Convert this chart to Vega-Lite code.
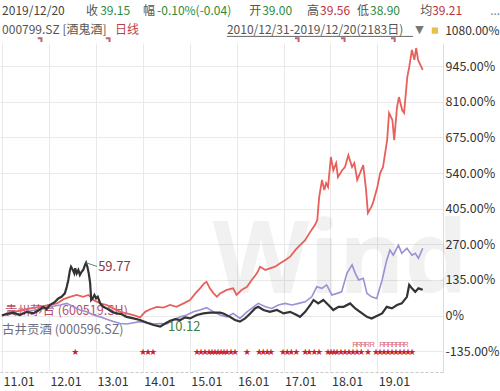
{
  "$schema": "https://vega.github.io/schema/vega-lite/v6.json",
  "width": 443,
  "height": 329,
  "autosize": "none",
  "padding": {"left": 0, "top": 43, "right": 57, "bottom": 19},
  "background": "white",
  "config": {
    "view": {"stroke": null},
    "font": "Noto Sans CJK SC",
    "text": {"font": "Noto Sans CJK SC", "fontSize": 12, "baseline": "middle", "align": "left"},
    "axis": {"labelFont": "Noto Sans CJK SC", "labelFontSize": 12.5, "labelColor": "#333", "title": null}
  },
  "datasets": {
    "one": [{}],
    "jgj": [
      {"date": "2010-12-31", "value": 0}, {"date": "2011-02-07", "value": 6}, {"date": "2011-03-29", "value": 11},
      {"date": "2011-05-20", "value": 2}, {"date": "2011-07-13", "value": 14}, {"date": "2011-09-02", "value": 8},
      {"date": "2011-10-08", "value": 18}, {"date": "2011-11-17", "value": 33}, {"date": "2011-12-13", "value": 24},
      {"date": "2012-01-08", "value": 40}, {"date": "2012-02-17", "value": 52}, {"date": "2012-03-14", "value": 65},
      {"date": "2012-04-08", "value": 71}, {"date": "2012-05-04", "value": 84}, {"date": "2012-05-19", "value": 109},
      {"date": "2012-05-31", "value": 135}, {"date": "2012-06-13", "value": 173}, {"date": "2012-06-21", "value": 185},
      {"date": "2012-07-05", "value": 173}, {"date": "2012-07-16", "value": 160}, {"date": "2012-07-24", "value": 179},
      {"date": "2012-08-04", "value": 160}, {"date": "2012-08-17", "value": 173}, {"date": "2012-08-29", "value": 154},
      {"date": "2012-09-12", "value": 166}, {"date": "2012-09-24", "value": 173}, {"date": "2012-10-08", "value": 192},
      {"date": "2012-10-16", "value": 200}, {"date": "2012-10-26", "value": 185}, {"date": "2012-11-06", "value": 160},
      {"date": "2012-11-17", "value": 122}, {"date": "2012-11-25", "value": 59}, {"date": "2012-12-06", "value": 65},
      {"date": "2012-12-20", "value": 78}, {"date": "2013-01-02", "value": 65}, {"date": "2013-01-15", "value": 71},
      {"date": "2013-02-03", "value": 46}, {"date": "2013-02-28", "value": 33}, {"date": "2013-03-26", "value": 27},
      {"date": "2013-05-04", "value": 14}, {"date": "2013-06-13", "value": 8}, {"date": "2013-07-21", "value": 5},
      {"date": "2013-08-29", "value": -5}, {"date": "2013-10-20", "value": -11}, {"date": "2013-12-11", "value": -17},
      {"date": "2014-02-02", "value": -27}, {"date": "2014-03-26", "value": -36}, {"date": "2014-05-16", "value": -42},
      {"date": "2014-06-24", "value": -30}, {"date": "2014-08-02", "value": -20}, {"date": "2014-09-10", "value": -14},
      {"date": "2014-10-19", "value": -17}, {"date": "2014-11-27", "value": -7}, {"date": "2015-01-04", "value": -11},
      {"date": "2015-02-25", "value": 2}, {"date": "2015-04-18", "value": 8}, {"date": "2015-06-08", "value": 11},
      {"date": "2015-08-25", "value": 11}, {"date": "2015-09-20", "value": 8}, {"date": "2015-11-10", "value": -5},
      {"date": "2015-12-20", "value": -17}, {"date": "2016-01-27", "value": -23}, {"date": "2016-03-07", "value": -11},
      {"date": "2016-04-16", "value": 8}, {"date": "2016-05-23", "value": 27}, {"date": "2016-06-18", "value": 33},
      {"date": "2016-07-28", "value": 21}, {"date": "2016-09-16", "value": 14}, {"date": "2016-11-10", "value": 21},
      {"date": "2017-01-01", "value": 8}, {"date": "2017-02-21", "value": 14}, {"date": "2017-04-13", "value": 2},
      {"date": "2017-05-09", "value": -5}, {"date": "2017-06-18", "value": 14}, {"date": "2017-07-28", "value": 40},
      {"date": "2017-08-22", "value": 59}, {"date": "2017-09-27", "value": 46}, {"date": "2017-11-06", "value": 59},
      {"date": "2017-12-16", "value": 40}, {"date": "2018-01-23", "value": 21}, {"date": "2018-03-04", "value": 33},
      {"date": "2018-04-13", "value": 33}, {"date": "2018-06-03", "value": 46}, {"date": "2018-07-13", "value": 27},
      {"date": "2018-08-19", "value": 14}, {"date": "2018-10-12", "value": -5}, {"date": "2018-11-17", "value": -11},
      {"date": "2018-12-27", "value": -2}, {"date": "2019-02-07", "value": 8}, {"date": "2019-03-15", "value": 33},
      {"date": "2019-04-24", "value": 27}, {"date": "2019-06-03", "value": 40}, {"date": "2019-07-10", "value": 46},
      {"date": "2019-08-19", "value": 71}, {"date": "2019-09-06", "value": 116}, {"date": "2019-09-27", "value": 103},
      {"date": "2019-10-23", "value": 90}, {"date": "2019-11-17", "value": 103}, {"date": "2019-12-20", "value": 98}
    ],
    "gzmt": [
      {"date": "2010-12-31", "value": 0}, {"date": "2011-03-04", "value": 14}, {"date": "2011-05-20", "value": 18},
      {"date": "2011-08-08", "value": 27}, {"date": "2011-10-23", "value": 33}, {"date": "2012-01-08", "value": 40},
      {"date": "2012-03-04", "value": 46}, {"date": "2012-04-24", "value": 62}, {"date": "2012-06-13", "value": 71},
      {"date": "2012-08-04", "value": 78}, {"date": "2012-09-24", "value": 71}, {"date": "2012-11-03", "value": 78},
      {"date": "2012-12-13", "value": 59}, {"date": "2013-02-03", "value": 46}, {"date": "2013-03-26", "value": 40},
      {"date": "2013-05-16", "value": 27}, {"date": "2013-07-10", "value": 14}, {"date": "2013-08-29", "value": 8},
      {"date": "2013-10-20", "value": 2}, {"date": "2013-12-11", "value": -7}, {"date": "2014-01-19", "value": 14},
      {"date": "2014-02-28", "value": 24}, {"date": "2014-04-20", "value": 33}, {"date": "2014-06-10", "value": 30},
      {"date": "2014-08-01", "value": 40}, {"date": "2014-09-20", "value": 33}, {"date": "2014-11-14", "value": 46},
      {"date": "2015-01-04", "value": 59}, {"date": "2015-02-14", "value": 84}, {"date": "2015-03-22", "value": 103},
      {"date": "2015-04-24", "value": 122}, {"date": "2015-05-12", "value": 128}, {"date": "2015-06-07", "value": 103},
      {"date": "2015-07-06", "value": 84}, {"date": "2015-08-01", "value": 71}, {"date": "2015-08-26", "value": 84},
      {"date": "2015-10-16", "value": 97}, {"date": "2015-12-05", "value": 103}, {"date": "2016-01-01", "value": 78},
      {"date": "2016-02-09", "value": 97}, {"date": "2016-03-22", "value": 109}, {"date": "2016-04-28", "value": 135},
      {"date": "2016-06-07", "value": 160}, {"date": "2016-07-02", "value": 185}, {"date": "2016-08-12", "value": 173},
      {"date": "2016-09-16", "value": 179}, {"date": "2016-10-27", "value": 185}, {"date": "2016-12-05", "value": 198},
      {"date": "2017-01-12", "value": 210}, {"date": "2017-02-21", "value": 223}, {"date": "2017-04-02", "value": 248},
      {"date": "2017-05-09", "value": 267}, {"date": "2017-06-18", "value": 286}, {"date": "2017-07-28", "value": 318},
      {"date": "2017-09-02", "value": 343}, {"date": "2017-09-20", "value": 362}, {"date": "2017-10-05", "value": 449},
      {"date": "2017-10-27", "value": 514}, {"date": "2017-11-14", "value": 476}, {"date": "2017-11-28", "value": 502},
      {"date": "2017-12-13", "value": 487}, {"date": "2018-01-04", "value": 601}, {"date": "2018-01-23", "value": 551},
      {"date": "2018-02-14", "value": 578}, {"date": "2018-02-28", "value": 525}, {"date": "2018-04-02", "value": 551},
      {"date": "2018-04-24", "value": 563}, {"date": "2018-05-20", "value": 608}, {"date": "2018-06-18", "value": 563},
      {"date": "2018-07-06", "value": 578}, {"date": "2018-07-28", "value": 514}, {"date": "2018-08-19", "value": 540},
      {"date": "2018-09-13", "value": 570}, {"date": "2018-10-05", "value": 476}, {"date": "2018-10-19", "value": 389},
      {"date": "2018-11-14", "value": 411}, {"date": "2018-11-28", "value": 427}, {"date": "2019-01-01", "value": 487},
      {"date": "2019-01-23", "value": 540}, {"date": "2019-02-14", "value": 563}, {"date": "2019-03-18", "value": 665},
      {"date": "2019-04-02", "value": 768}, {"date": "2019-04-28", "value": 741}, {"date": "2019-05-12", "value": 665},
      {"date": "2019-06-03", "value": 790}, {"date": "2019-06-18", "value": 828}, {"date": "2019-07-13", "value": 779},
      {"date": "2019-07-28", "value": 768}, {"date": "2019-08-22", "value": 904}, {"date": "2019-09-06", "value": 942},
      {"date": "2019-09-27", "value": 1007}, {"date": "2019-10-16", "value": 969}, {"date": "2019-10-30", "value": 1014},
      {"date": "2019-11-14", "value": 969}, {"date": "2019-12-20", "value": 931}
    ],
    "gjgj": [
      {"date": "2010-12-31", "value": 0}, {"date": "2011-03-04", "value": 11}, {"date": "2011-05-20", "value": 6},
      {"date": "2011-08-08", "value": 18}, {"date": "2011-10-23", "value": 21}, {"date": "2012-01-08", "value": 33},
      {"date": "2012-03-29", "value": 40}, {"date": "2012-05-19", "value": 46}, {"date": "2012-07-10", "value": 33},
      {"date": "2012-08-29", "value": 21}, {"date": "2012-10-23", "value": 14}, {"date": "2012-12-13", "value": 2},
      {"date": "2013-02-03", "value": -5}, {"date": "2013-03-26", "value": -14}, {"date": "2013-05-16", "value": -23},
      {"date": "2013-07-10", "value": -30}, {"date": "2013-08-29", "value": -32}, {"date": "2013-10-20", "value": -27},
      {"date": "2013-12-11", "value": -23}, {"date": "2014-02-02", "value": -27}, {"date": "2014-03-26", "value": -32},
      {"date": "2014-05-16", "value": -30}, {"date": "2014-07-06", "value": -32}, {"date": "2014-08-26", "value": -17},
      {"date": "2014-10-19", "value": -5}, {"date": "2014-12-09", "value": 2}, {"date": "2015-01-30", "value": 14},
      {"date": "2015-03-22", "value": 21}, {"date": "2015-05-12", "value": 30}, {"date": "2015-07-06", "value": 14},
      {"date": "2015-08-26", "value": 2}, {"date": "2015-10-16", "value": -5}, {"date": "2015-12-05", "value": 8},
      {"date": "2016-01-27", "value": -11}, {"date": "2016-03-22", "value": 14}, {"date": "2016-05-12", "value": 33},
      {"date": "2016-06-18", "value": 46}, {"date": "2016-08-12", "value": 33}, {"date": "2016-10-01", "value": 27},
      {"date": "2016-11-21", "value": 40}, {"date": "2017-01-12", "value": 46}, {"date": "2017-03-07", "value": 40},
      {"date": "2017-04-28", "value": 46}, {"date": "2017-06-18", "value": 52}, {"date": "2017-08-08", "value": 71},
      {"date": "2017-09-16", "value": 109}, {"date": "2017-10-27", "value": 103}, {"date": "2017-12-02", "value": 116},
      {"date": "2018-01-12", "value": 78}, {"date": "2018-02-21", "value": 84}, {"date": "2018-03-29", "value": 90},
      {"date": "2018-05-09", "value": 160}, {"date": "2018-06-18", "value": 192}, {"date": "2018-07-13", "value": 160},
      {"date": "2018-08-08", "value": 135}, {"date": "2018-09-13", "value": 141}, {"date": "2018-10-12", "value": 84},
      {"date": "2018-11-17", "value": 71}, {"date": "2018-12-27", "value": 65}, {"date": "2019-02-07", "value": 135},
      {"date": "2019-03-15", "value": 210}, {"date": "2019-04-09", "value": 248}, {"date": "2019-05-05", "value": 229},
      {"date": "2019-06-14", "value": 267}, {"date": "2019-07-10", "value": 236}, {"date": "2019-08-19", "value": 255},
      {"date": "2019-09-27", "value": 229}, {"date": "2019-10-23", "value": 236}, {"date": "2019-11-17", "value": 217},
      {"date": "2019-12-20", "value": 255}
    ],
    "stars": [
      {"date": "2012-07-24"}, {"date": "2014-01-03"}, {"date": "2014-02-11"}, {"date": "2014-03-22"},
      {"date": "2015-02-27"}, {"date": "2015-03-30"}, {"date": "2015-04-30"}, {"date": "2015-06-01"},
      {"date": "2015-06-24"}, {"date": "2015-07-17"}, {"date": "2015-08-09"}, {"date": "2015-09-02"},
      {"date": "2015-09-25"}, {"date": "2015-10-18"}, {"date": "2015-11-19"}, {"date": "2015-12-20"},
      {"date": "2016-03-23"}, {"date": "2016-06-25"}, {"date": "2016-07-26"}, {"date": "2016-08-26"},
      {"date": "2016-09-26"}, {"date": "2016-12-28"}, {"date": "2017-01-29"}, {"date": "2017-03-01"},
      {"date": "2017-04-09"}, {"date": "2017-06-18"}, {"date": "2017-07-19"}, {"date": "2017-08-27"},
      {"date": "2017-10-04"}, {"date": "2017-12-13"}, {"date": "2018-01-06"}, {"date": "2018-01-29"},
      {"date": "2018-02-21"}, {"date": "2018-03-24"}, {"date": "2018-04-24"}, {"date": "2018-05-26"},
      {"date": "2018-06-26"}, {"date": "2018-07-27"}, {"date": "2018-08-28"}, {"date": "2018-10-21"},
      {"date": "2018-12-22"}, {"date": "2019-01-22"}, {"date": "2019-02-22"}, {"date": "2019-03-25"},
      {"date": "2019-04-26"}, {"date": "2019-05-27"}, {"date": "2019-06-27"}, {"date": "2019-07-28"},
      {"date": "2019-08-28"}, {"date": "2019-09-28"}
    ],
    "rmarks": [
      {"date": "2018-07-11"}, {"date": "2018-08-11"}, {"date": "2018-09-12"}, {"date": "2018-10-13"},
      {"date": "2018-11-21"}, {"date": "2019-02-07"}, {"date": "2019-03-10"}, {"date": "2019-04-10"},
      {"date": "2019-05-11"}, {"date": "2019-06-11"}, {"date": "2019-07-12"}, {"date": "2019-08-12"}
    ],
    "flags": [
      {"date": "2011-10-23"}, {"date": "2013-04-05"}, {"date": "2017-04-16"}, {"date": "2018-04-09"}, {"date": "2019-05-04"}
    ]
  },
  "layer": [
    {
      "data": {"name": "one"},
      "mark": {"type": "text", "fontSize": 100, "fontWeight": "bold", "font": "Noto Sans", "color": "#000000", "opacity": 0.05, "align": "center", "baseline": "alphabetic"},
      "encoding": {
        "x": {"datum": {"year": 2018, "month": 3, "date": 17, "utc": true}, "type": "temporal",
          "scale": {"type": "utc", "domain": [{"year": 2010, "month": 12, "date": 16, "utc": true}, {"year": 2020, "month": 5, "date": 26, "utc": true}]},
          "axis": {
            "orient": "bottom",
            "values": [
              {"year": 2011, "month": 1, "date": 1, "utc": true}, {"year": 2012, "month": 1, "date": 1, "utc": true},
              {"year": 2013, "month": 1, "date": 1, "utc": true}, {"year": 2014, "month": 1, "date": 1, "utc": true},
              {"year": 2015, "month": 1, "date": 1, "utc": true}, {"year": 2016, "month": 1, "date": 1, "utc": true},
              {"year": 2017, "month": 1, "date": 1, "utc": true}, {"year": 2018, "month": 1, "date": 1, "utc": true},
              {"year": 2019, "month": 1, "date": 1, "utc": true}
            ],
            "format": "%y.%m",
            "grid": true, "gridColor": "#e9e9e9", "ticks": false,
            "labelAlign": "left", "labelPadding": 3, "labelOffset": 1, "labelBaseline": "top",
            "domain": true, "domainColor": "#c8c8c8", "domainDash": [3, 2]
          }
        },
        "y": {"datum": 85, "type": "quantitative",
          "scale": {"domain": [-214, 1033], "nice": false, "zero": false},
          "axis": {
            "orient": "right",
            "values": [-135, 0, 135, 270, 405, 540, 675, 810, 945],
            "labelExpr": "datum.value === 0 ? '0%' : (datum.value < 0 ? '-' : '') + format(abs(datum.value), '.2f') + '%'",
            "grid": true, "gridColor": "#e9e9e9", "ticks": false,
            "labelAlign": "left", "labelPadding": 2,
            "domain": true, "domainColor": "#dcdcdc"
          }
        },
        "text": {"value": "Wind"}
      }
    },
    {
      "data": {"name": "one"},
      "mark": {"type": "text", "color": "#b5506a", "fontSize": 12.5},
      "encoding": {
        "x": {"datum": {"year": 2011, "month": 1, "date": 24, "utc": true}, "type": "temporal"},
        "y": {"datum": 17, "type": "quantitative"},
        "text": {"value": "贵州茅台 (600519.SH)"}
      }
    },
    {
      "data": {"name": "one"},
      "mark": {"type": "text", "color": "#6f6f80", "fontSize": 12.5},
      "encoding": {
        "x": {"datum": {"year": 2011, "month": 1, "date": 1, "utc": true}, "type": "temporal"},
        "y": {"datum": -55, "type": "quantitative"},
        "text": {"value": "古井贡酒 (000596.SZ)"}
      }
    },
    {
      "data": {"name": "gzmt"},
      "mark": {"type": "line", "color": "#e8605c", "strokeWidth": 1.8},
      "encoding": {
        "x": {"field": "date", "type": "temporal"},
        "y": {"field": "value", "type": "quantitative"}
      }
    },
    {
      "data": {"name": "gjgj"},
      "mark": {"type": "line", "color": "#9d8fd6", "strokeWidth": 1.6},
      "encoding": {
        "x": {"field": "date", "type": "temporal"},
        "y": {"field": "value", "type": "quantitative"}
      }
    },
    {
      "data": {"name": "jgj"},
      "mark": {"type": "line", "color": "#333333", "strokeWidth": 2.2},
      "encoding": {
        "x": {"field": "date", "type": "temporal"},
        "y": {"field": "value", "type": "quantitative"}
      }
    },
    {
      "data": {"name": "one"},
      "mark": {"type": "rule", "color": "#5a8a6a", "strokeWidth": 1},
      "encoding": {
        "x": {"datum": {"year": 2012, "month": 10, "date": 16, "utc": true}, "type": "temporal"},
        "x2": {"datum": {"year": 2013, "month": 1, "date": 10, "utc": true}},
        "y": {"datum": 200, "type": "quantitative"},
        "y2": {"datum": 186}
      }
    },
    {
      "data": {"name": "one"},
      "mark": {"type": "text", "color": "#8a3b4a", "fontSize": 13},
      "encoding": {
        "x": {"datum": {"year": 2013, "month": 1, "date": 18, "utc": true}, "type": "temporal"},
        "y": {"datum": 184, "type": "quantitative"},
        "text": {"value": "59.77"}
      }
    },
    {
      "data": {"name": "one"},
      "mark": {"type": "text", "color": "#3f7f3f", "fontSize": 13},
      "encoding": {
        "x": {"datum": {"year": 2014, "month": 7, "date": 16, "utc": true}, "type": "temporal"},
        "y": {"datum": -44, "type": "quantitative"},
        "text": {"value": "10.12"}
      }
    },
    {
      "data": {"name": "stars"},
      "mark": {"type": "text", "color": "#c81e2e", "fontSize": 9, "font": "DejaVu Sans", "align": "center"},
      "encoding": {
        "x": {"field": "date", "type": "temporal"},
        "y": {"datum": -138, "type": "quantitative"},
        "text": {"value": "★"}
      }
    },
    {
      "data": {"name": "rmarks"},
      "mark": {"type": "text", "color": "#d86a7a", "fontSize": 8, "font": "Liberation Sans", "align": "center"},
      "encoding": {
        "x": {"field": "date", "type": "temporal"},
        "y": {"datum": -112, "type": "quantitative"},
        "text": {"value": "R"}
      }
    },
    {
      "data": {"name": "flags"},
      "mark": {"type": "point", "shape": "M -0.9 -0.6 L 0.6 -0.6 L 0.6 0.9", "filled": false, "stroke": "#a8203a", "strokeWidth": 2, "size": 25},
      "encoding": {
        "x": {"field": "date", "type": "temporal"},
        "y": {"datum": 1045, "type": "quantitative"}
      }
    },
    {
      "data": {"name": "one"},
      "mark": {"type": "text", "color": "#444"},
      "encoding": {
        "x": {"datum": {"year": 2011, "month": 1, "date": 1, "utc": true}, "type": "temporal"},
        "y": {"datum": 1156, "type": "quantitative"},
        "text": {"value": "2019/12/20"}
      }
    },
    {
      "data": {"name": "one"},
      "mark": {"type": "text", "color": "#555"},
      "encoding": {
        "x": {"datum": {"year": 2012, "month": 10, "date": 16, "utc": true}, "type": "temporal"},
        "y": {"datum": 1156, "type": "quantitative"},
        "text": {"value": "收"}
      }
    },
    {
      "data": {"name": "one"},
      "mark": {"type": "text", "color": "#2f8a3a"},
      "encoding": {
        "x": {"datum": {"year": 2013, "month": 2, "date": 3, "utc": true}, "type": "temporal"},
        "y": {"datum": 1156, "type": "quantitative"},
        "text": {"value": "39.15"}
      }
    },
    {
      "data": {"name": "one"},
      "mark": {"type": "text", "color": "#555"},
      "encoding": {
        "x": {"datum": {"year": 2014, "month": 1, "date": 3, "utc": true}, "type": "temporal"},
        "y": {"datum": 1156, "type": "quantitative"},
        "text": {"value": "幅"}
      }
    },
    {
      "data": {"name": "one"},
      "mark": {"type": "text", "color": "#2f8a3a"},
      "encoding": {
        "x": {"datum": {"year": 2014, "month": 4, "date": 22, "utc": true}, "type": "temporal"},
        "y": {"datum": 1156, "type": "quantitative"},
        "text": {"value": "-0.10%(-0.04)"}
      }
    },
    {
      "data": {"name": "one"},
      "mark": {"type": "text", "color": "#555"},
      "encoding": {
        "x": {"datum": {"year": 2016, "month": 4, "date": 8, "utc": true}, "type": "temporal"},
        "y": {"datum": 1156, "type": "quantitative"},
        "text": {"value": "开"}
      }
    },
    {
      "data": {"name": "one"},
      "mark": {"type": "text", "color": "#2f8a3a"},
      "encoding": {
        "x": {"datum": {"year": 2016, "month": 7, "date": 18, "utc": true}, "type": "temporal"},
        "y": {"datum": 1156, "type": "quantitative"},
        "text": {"value": "39.00"}
      }
    },
    {
      "data": {"name": "one"},
      "mark": {"type": "text", "color": "#555"},
      "encoding": {
        "x": {"datum": {"year": 2017, "month": 7, "date": 3, "utc": true}, "type": "temporal"},
        "y": {"datum": 1156, "type": "quantitative"},
        "text": {"value": "高"}
      }
    },
    {
      "data": {"name": "one"},
      "mark": {"type": "text", "color": "#c0303a"},
      "encoding": {
        "x": {"datum": {"year": 2017, "month": 10, "date": 12, "utc": true}, "type": "temporal"},
        "y": {"datum": 1156, "type": "quantitative"},
        "text": {"value": "39.56"}
      }
    },
    {
      "data": {"name": "one"},
      "mark": {"type": "text", "color": "#555"},
      "encoding": {
        "x": {"datum": {"year": 2018, "month": 7, "date": 27, "utc": true}, "type": "temporal"},
        "y": {"datum": 1156, "type": "quantitative"},
        "text": {"value": "低"}
      }
    },
    {
      "data": {"name": "one"},
      "mark": {"type": "text", "color": "#2f8a3a"},
      "encoding": {
        "x": {"datum": {"year": 2018, "month": 11, "date": 5, "utc": true}, "type": "temporal"},
        "y": {"datum": 1156, "type": "quantitative"},
        "text": {"value": "38.90"}
      }
    },
    {
      "data": {"name": "one"},
      "mark": {"type": "text", "color": "#555"},
      "encoding": {
        "x": {"datum": {"year": 2019, "month": 11, "date": 30, "utc": true}, "type": "temporal"},
        "y": {"datum": 1156, "type": "quantitative"},
        "text": {"value": "均"}
      }
    },
    {
      "data": {"name": "one"},
      "mark": {"type": "text", "color": "#c0303a"},
      "encoding": {
        "x": {"datum": {"year": 2020, "month": 3, "date": 3, "utc": true}, "type": "temporal"},
        "y": {"datum": 1156, "type": "quantitative"},
        "text": {"value": "39.21"}
      }
    },
    {
      "data": {"name": "one"},
      "mark": {"type": "text", "color": "#888"},
      "encoding": {
        "x": {"datum": {"year": 2021, "month": 5, "date": 28, "utc": true}, "type": "temporal"},
        "y": {"datum": 1156, "type": "quantitative"},
        "text": {"value": "..."}
      }
    },
    {
      "data": {"name": "one"},
      "mark": {"type": "text", "color": "#555"},
      "encoding": {
        "x": {"datum": {"year": 2011, "month": 1, "date": 1, "utc": true}, "type": "temporal"},
        "y": {"datum": 1083, "type": "quantitative"},
        "text": {"value": "000799.SZ [酒鬼酒]"}
      }
    },
    {
      "data": {"name": "one"},
      "mark": {"type": "text", "color": "#c04048"},
      "encoding": {
        "x": {"datum": {"year": 2013, "month": 5, "date": 30, "utc": true}, "type": "temporal"},
        "y": {"datum": 1083, "type": "quantitative"},
        "text": {"value": "日线"}
      }
    },
    {
      "data": {"name": "one"},
      "mark": {"type": "text", "color": "#555"},
      "encoding": {
        "x": {"datum": {"year": 2015, "month": 10, "date": 18, "utc": true}, "type": "temporal"},
        "y": {"datum": 1083, "type": "quantitative"},
        "text": {"value": "2010/12/31-2019/12/20(2183日)"}
      }
    },
    {
      "data": {"name": "one"},
      "mark": {"type": "rule", "color": "#666", "strokeWidth": 1},
      "encoding": {
        "x": {"datum": {"year": 2015, "month": 10, "date": 18, "utc": true}, "type": "temporal"},
        "x2": {"datum": {"year": 2019, "month": 10, "date": 6, "utc": true}},
        "y": {"datum": 1058, "type": "quantitative"}
      }
    },
    {
      "data": {"name": "one"},
      "mark": {"type": "text", "color": "#777", "font": "DejaVu Sans", "fontSize": 11},
      "encoding": {
        "x": {"datum": {"year": 2019, "month": 10, "date": 22, "utc": true}, "type": "temporal"},
        "y": {"datum": 1083, "type": "quantitative"},
        "text": {"value": "▼"}
      }
    },
    {
      "data": {"name": "one"},
      "mark": {"type": "point", "shape": "square", "filled": true, "color": "#e8c14a", "size": 40, "opacity": 1},
      "encoding": {
        "x": {"datum": {"year": 2020, "month": 3, "date": 24, "utc": true}, "type": "temporal"},
        "y": {"datum": 1080, "type": "quantitative"}
      }
    },
    {
      "data": {"name": "one"},
      "mark": {"type": "text", "color": "#333", "fontSize": 12},
      "encoding": {
        "x": {"datum": {"year": 2020, "month": 6, "date": 12, "utc": true}, "type": "temporal"},
        "y": {"datum": 1080, "type": "quantitative"},
        "text": {"value": "1080.00%"}
      }
    }
  ]
}
